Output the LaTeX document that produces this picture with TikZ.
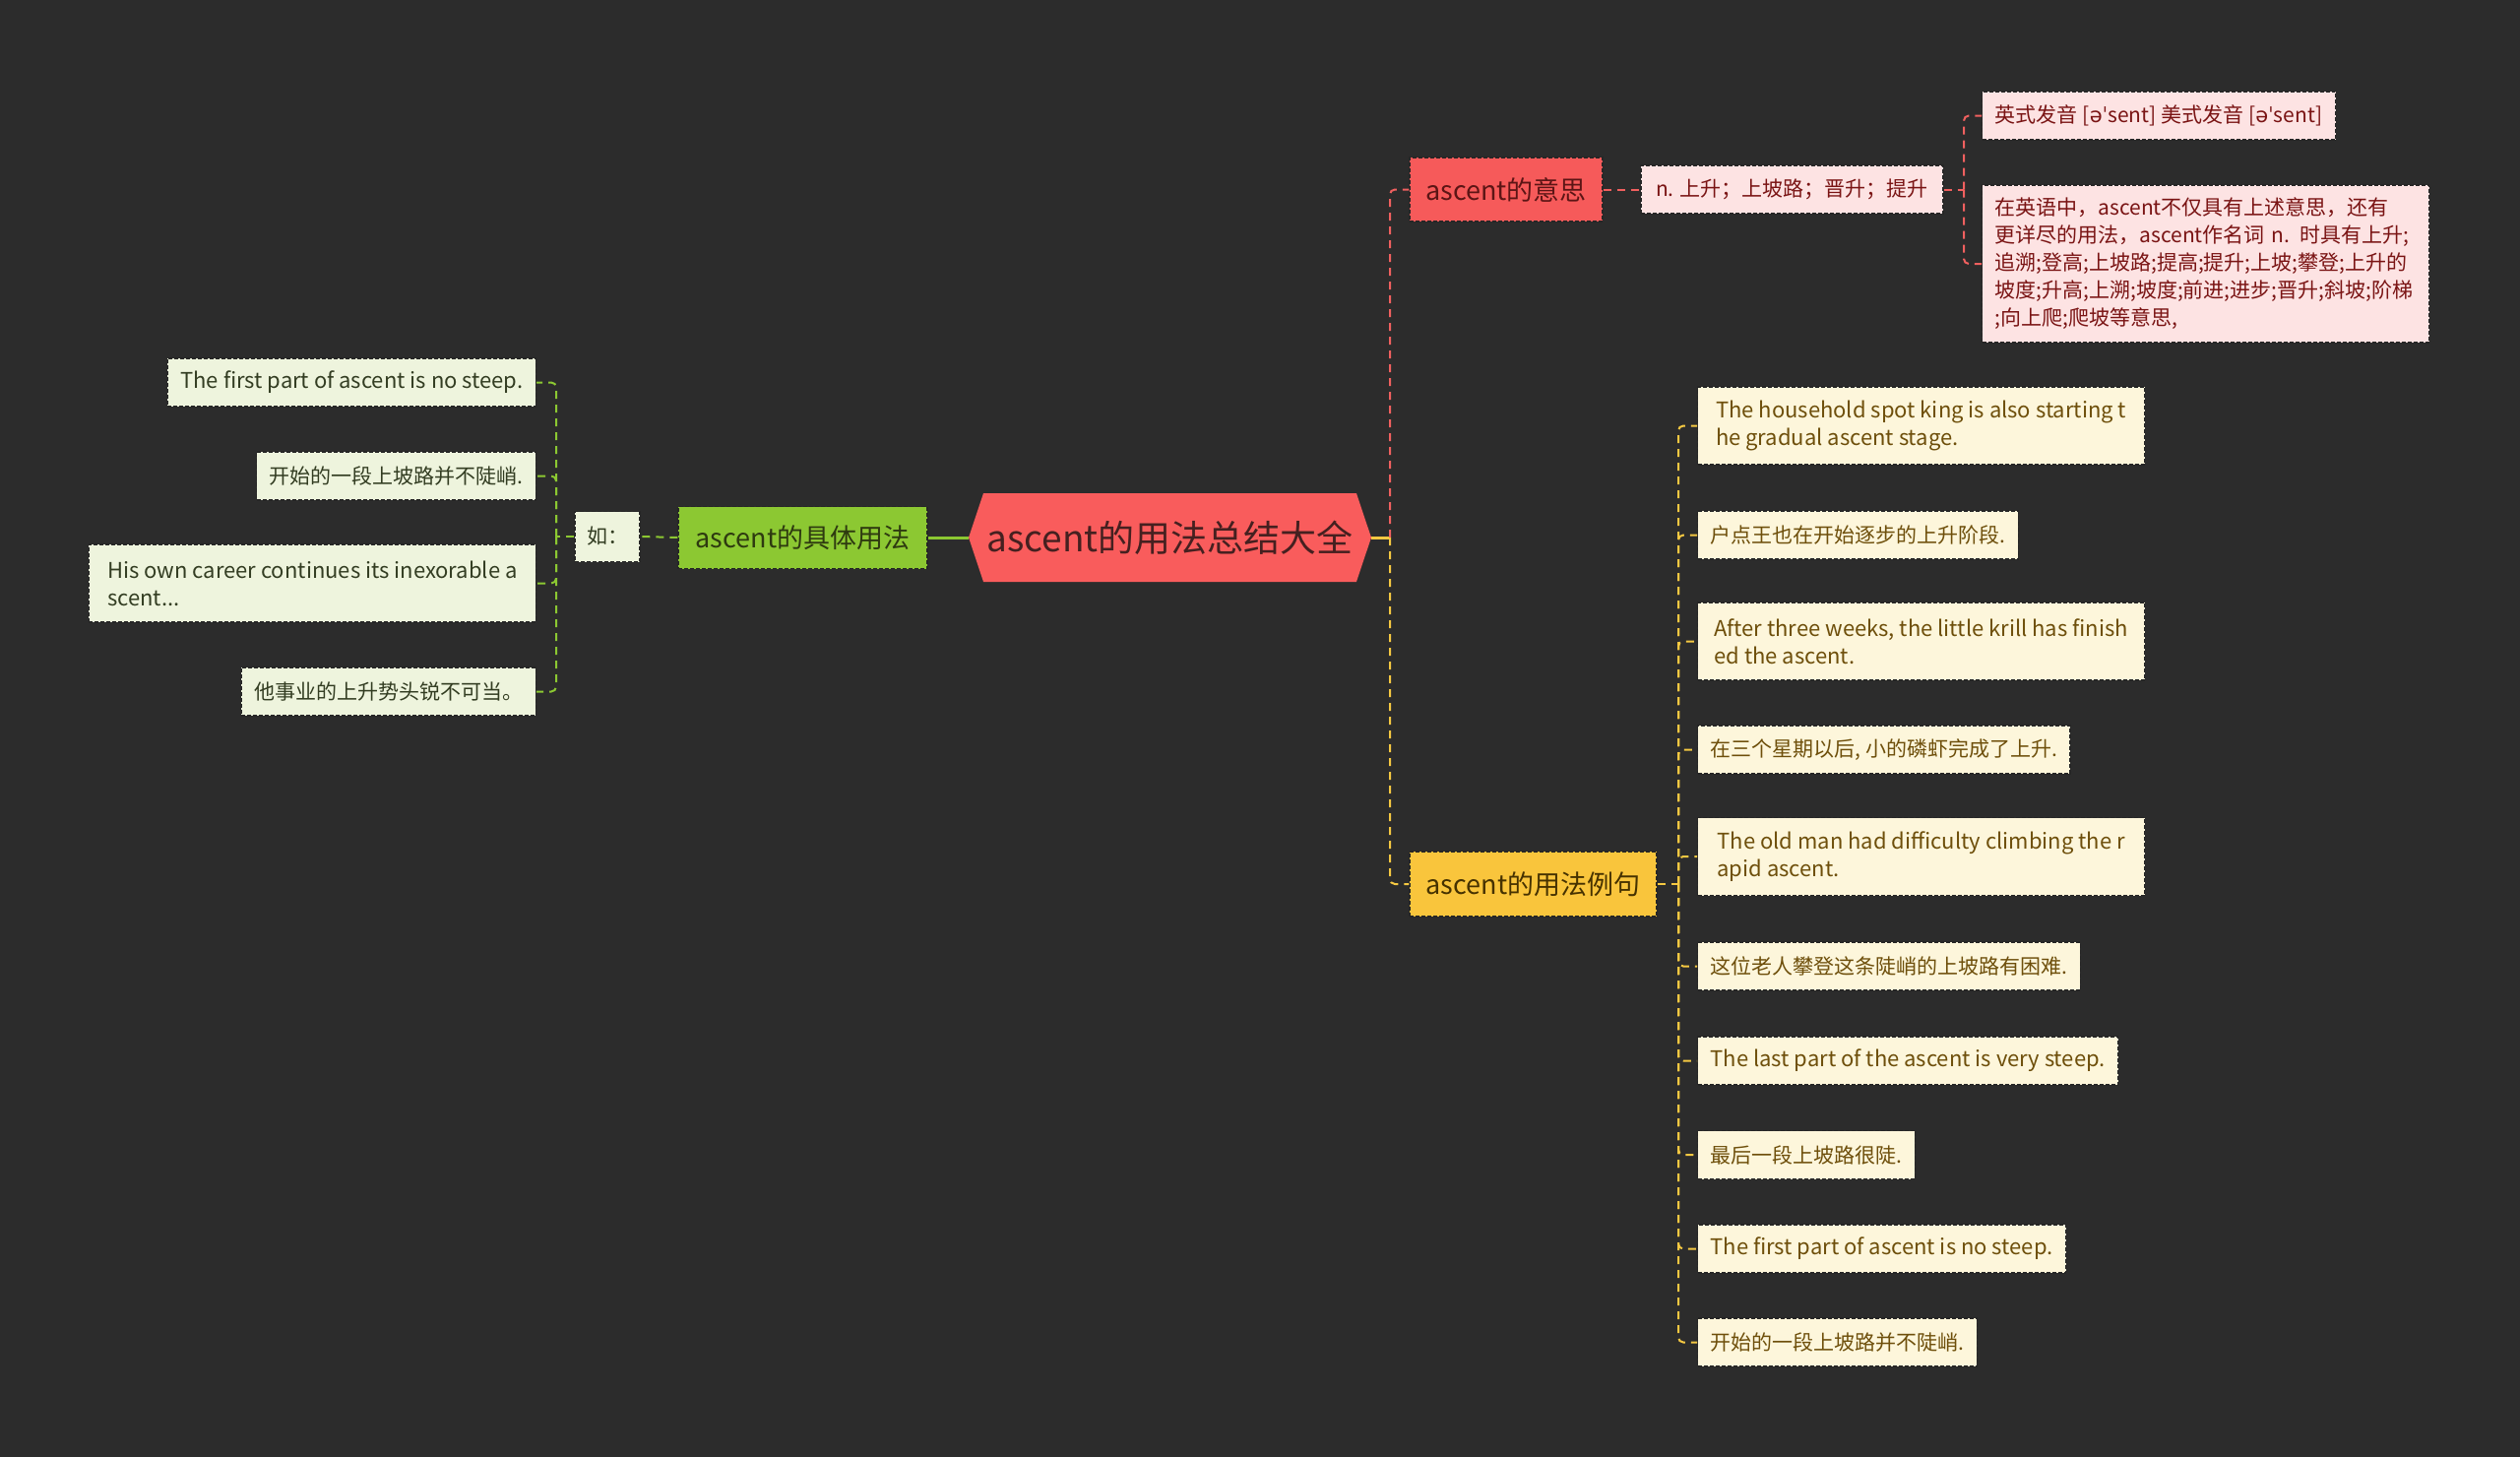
\documentclass[tikz,border=0pt]{standalone}
\usepackage{fontspec}
\setmainfont{Noto Sans CJK SC}
\newfontfamily\ipafont{DejaVu Sans}
\usetikzlibrary{shapes.symbols}
\definecolor{bgc}{HTML}{2C2C2C}
\definecolor{bord}{HTML}{262626}
\definecolor{cfill}{HTML}{F95C5C}
\definecolor{ctext}{HTML}{452020}
\definecolor{mfill}{HTML}{F65A5A}
\definecolor{mtext}{HTML}{5C1515}
\definecolor{rpink}{HTML}{FDE3E3}
\definecolor{rtext}{HTML}{7A1414}
\definecolor{efill}{HTML}{F9C53C}
\definecolor{etext}{HTML}{463200}
\definecolor{ycream}{HTML}{FDF6DB}
\definecolor{ytext}{HTML}{6E4F0B}
\definecolor{ufill}{HTML}{8CC832}
\definecolor{utext}{HTML}{2E3A10}
\definecolor{gcream}{HTML}{EEF4DD}
\definecolor{gtext}{HTML}{333D22}
\definecolor{rline}{HTML}{F0605F}
\definecolor{yline}{HTML}{F5C842}
\definecolor{gline}{HTML}{8CC832}
\begin{document}
\begin{tikzpicture}[x=1pt,y=-1pt,
  box/.style={draw=bord, line width=1.2pt, dash pattern=on 4pt off 2pt,
    inner xsep=13pt, inner ysep=0pt, minimum height=49pt,
    font=\fontsize{21}{28}\selectfont, align=left},
  en/.style={font=\fontsize{22}{28}\selectfont},
  twol/.style={minimum width=454pt, minimum height=79pt},
  yb/.style={box, fill=ycream, text=ytext, anchor=west},
  gb/.style={box, fill=gcream, text=gtext, anchor=east},
  rb/.style={box, fill=rpink, text=rtext},
  lone/.style={draw=bord, line width=1.2pt, dash pattern=on 4pt off 2pt,
    inner sep=0pt, font=\fontsize{27}{32}\selectfont},
  conn/.style={line width=2pt, dash pattern=on 8pt off 6pt, rounded corners=5pt},
  rdash/.style={conn, draw=rline},
  ydash/.style={conn, draw=yline},
  gdash/.style={conn, draw=gline},
]
\fill[bgc] (0,0) rectangle (2560,1480);
\useasboundingbox (0,0) rectangle (2560,1480);

% centre
\node[shape=signal, signal to=west and east, signal pointer angle=143,
  fill=cfill, text=ctext, minimum width=409pt, minimum height=90pt, inner sep=0pt,
  font=\fontsize{37}{44}\selectfont] (c) at (1188.5,546) {ascent的用法总结大全};

% level 1
\node[lone, fill=mfill, text=mtext, minimum width=196pt, minimum height=65pt] (m) at (1530,192.5) {ascent的意思};
\node[lone, fill=efill, text=etext, minimum width=251pt, minimum height=66pt] (ex) at (1557.5,898) {ascent的用法例句};
\node[lone, fill=ufill, text=utext, minimum width=253pt, minimum height=63pt] (u) at (815.5,546) {ascent的具体用法};

% red subtree
\node[rb, minimum width=307pt] (n) at (1820.5,192.5) {n. 上升；上坡路；晋升；提升};
\node[rb, anchor=west, minimum width=359pt] (pron) at (2013,117.5) {英式发音 [{\ipafont əˈ}sent] 美式发音 [{\ipafont əˈ}sent]};
\node[rb, anchor=west, text width=428pt, minimum height=160pt] (long) at (2013,268) {在英语中，ascent不仅具有上述意思，还有\\更详尽的用法，ascent作名词 n. 时具有上升;\\追溯;登高;上坡路;提高;提升;上坡;攀登;上升的\\坡度;升高;上溯;坡度;前进;进步;晋升;斜坡;阶梯\\;向上爬;爬坡等意思,};

% green subtree
\node[box, fill=gcream, text=gtext, minimum width=66pt, minimum height=51pt, inner xsep=0pt] (ru) at (617,545) {如：};
\node[gb, en] (l1) at (545,388.5) {The first part of ascent is no steep.};
\node[gb] (l2) at (545,483.5) {开始的一段上坡路并不陡峭.};
\node[gb, en, twol] (l3) at (545,592.5) {His own career continues its inexorable a\\scent...};
\node[gb] (l4) at (545,702.5) {他事业的上升势头锐不可当。};

% yellow subtree
\node[yb, en, twol] (s1) at (1724,432.5) {The household spot king is also starting t\\he gradual ascent stage.};
\node[yb] (s2) at (1724,543.5) {户点王也在开始逐步的上升阶段.};
\node[yb, en, twol] (s3) at (1724,651.5) {After three weeks, the little krill has finish\\ed the ascent.};
\node[yb] (s4) at (1724,761.5) {在三个星期以后, 小的磷虾完成了上升.};
\node[yb, en, twol] (s5) at (1724,870) {The old man had difficulty climbing the r\\apid ascent.};
\node[yb] (s6) at (1724,981.5) {这位老人攀登这条陡峭的上坡路有困难.};
\node[yb, en] (s7) at (1724,1077.5) {The last part of the ascent is very steep.};
\node[yb] (s8) at (1724,1173) {最后一段上坡路很陡.};
\node[yb, en] (s9) at (1724,1268.5) {The first part of ascent is no steep.};
\node[yb] (s10) at (1724,1363.5) {开始的一段上坡路并不陡峭.};

% trunks
\coordinate (tr) at (1412,546);
\coordinate (tl) at (565,545);
\coordinate (tn) at (1995,192.5);
\coordinate (te) at (1705,898);

% connectors
\draw[yline, line width=3pt] (c.east) -- (tr);
\draw[rdash] (tr) |- (m.west);
\draw[ydash] (tr) |- (ex.west);
\draw[gline, line width=3pt] (c.west) -- (u.east);
\draw[gdash] (u.west) -- (ru.east);
\draw[gdash] (ru.west) -- (tl);
\foreach \k in {l1,l2,l3,l4} \draw[gdash] (tl) |- (\k.east);
\draw[rdash] (m.east) -- (n.west);
\draw[rdash] (n.east) -- (tn);
\draw[rdash] (tn) |- (pron.west);
\draw[rdash] (tn) |- (long.west);
\draw[ydash] (ex.east) -- (te);
\foreach \k in {s1,s2,s3,s4,s5,s6,s7,s8,s9,s10} \draw[ydash] (te) |- (\k.west);
\end{tikzpicture}
\end{document}
